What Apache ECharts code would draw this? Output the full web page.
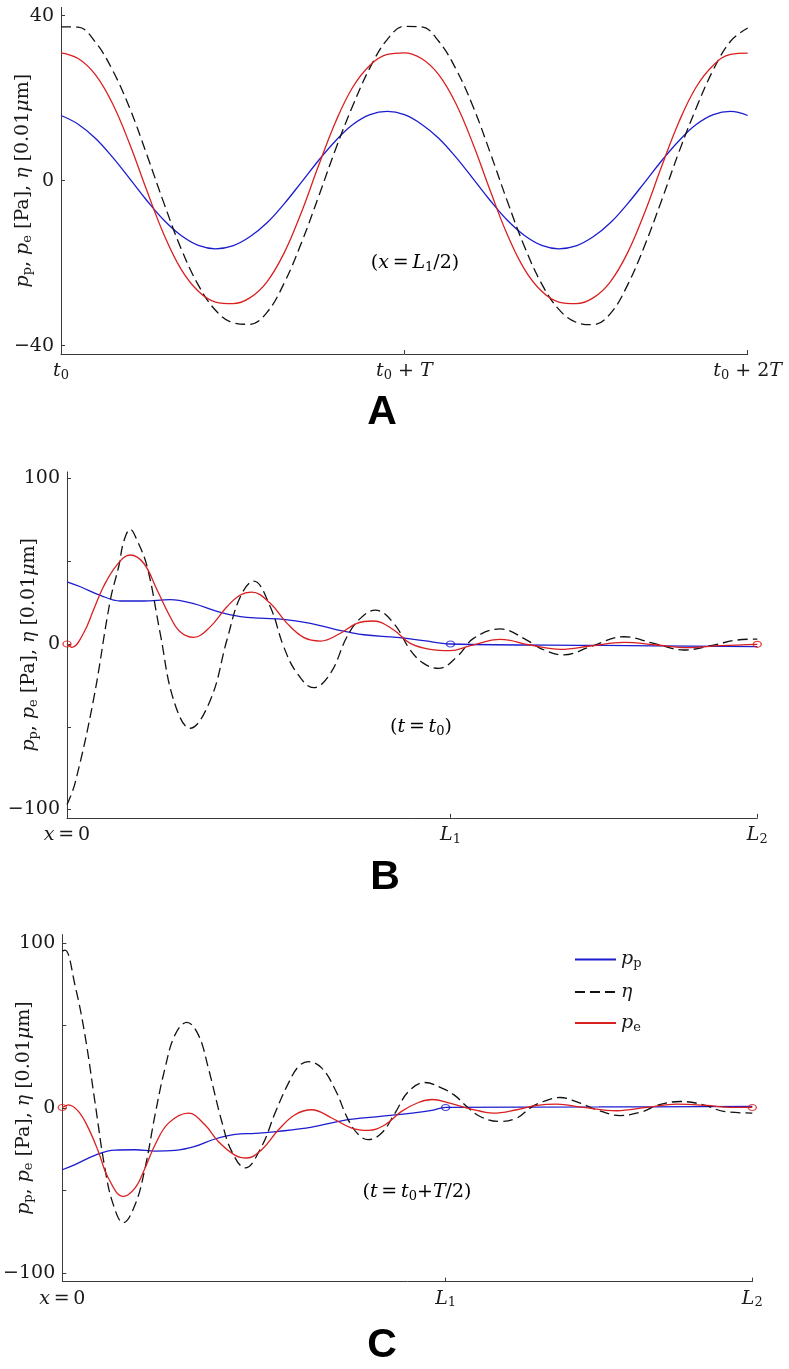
<!DOCTYPE html>
<html><head><meta charset="utf-8">
<script src="https://cdn.jsdelivr.net/npm/echarts@6/dist/echarts.min.js"></script>
<style>html,body{margin:0;padding:0;background:#fff}#c{width:789px;height:1369px}</style>
</head><body><div id="c"></div>
<script>
// ---------- data ----------
// Panel A : time series at x = L1/2, t in units of T
const A_pp = [[0,15.8],[0.05,13.7],[0.10,10.3],[0.15,5.7],[0.20,0.5],[0.25,-4.8],[0.30,-9.6],[0.35,-13.3],[0.40,-15.7],[0.45,-16.5],[0.50,-15.8],[0.55,-13.6],[0.60,-10.2],[0.65,-5.6],[0.70,-0.4],[0.75,4.9],[0.80,9.7],[0.85,13.6],[0.90,16.0],[0.95,16.8],[1.00,16.0],
  [1.05,13.7],[1.10,10.3],[1.15,5.7],[1.20,0.5],[1.25,-4.8],[1.30,-9.6],[1.35,-13.3],[1.40,-15.7],[1.45,-16.5],[1.50,-15.8],[1.55,-13.6],[1.60,-10.2],[1.65,-5.6],[1.70,-0.4],[1.75,4.9],[1.80,9.7],[1.85,13.6],[1.90,16.0],[1.95,16.8],[2.00,15.8]];
const A_eta = [[0,37.3],[0.05,37.2],[0.10,33.6],[0.15,26.8],[0.20,17.6],[0.25,6.3],[0.30,-5.5],[0.35,-16.5],[0.40,-25.3],[0.45,-31.4],[0.50,-34.4],[0.55,-34.8],[0.60,-31.9],[0.65,-24.8],[0.70,-15.1],[0.75,-3.9],[0.80,7.7],[0.85,18.2],[0.90,27.4],[0.95,34.2],[1.00,37.4],
  [1.05,37.3],[1.10,33.8],[1.15,27.1],[1.20,18.0],[1.25,6.8],[1.30,-5.0],[1.35,-16.0],[1.40,-25.0],[1.45,-31.2],[1.50,-34.3],[1.55,-34.9],[1.60,-32.2],[1.65,-25.3],[1.70,-15.7],[1.75,-4.6],[1.80,7.0],[1.85,17.6],[1.90,26.9],[1.95,33.8],[2.00,37.0]];
const A_pe = [[0,31.0],[0.05,29.6],[0.10,25.7],[0.15,18.7],[0.20,8.9],[0.25,-2.4],[0.30,-13.1],[0.35,-21.5],[0.40,-26.8],[0.45,-29.4],[0.50,-29.8],[0.55,-28.4],[0.60,-24.5],[0.65,-17.5],[0.70,-7.7],[0.75,3.6],[0.80,14.3],[0.85,22.7],[0.90,28.0],[0.95,30.6],[1.00,31.0],
  [1.05,29.6],[1.10,25.7],[1.15,18.7],[1.20,8.9],[1.25,-2.4],[1.30,-13.1],[1.35,-21.5],[1.40,-26.8],[1.45,-29.4],[1.50,-29.8],[1.55,-28.4],[1.60,-24.5],[1.65,-17.5],[1.70,-7.7],[1.75,3.6],[1.80,14.3],[1.85,22.7],[1.90,28.0],[1.95,30.6],[2.00,30.9]];

// Panel B : profile at t = t0, x in units of L1 (L2 = 1.8)
const B_pp = [[0,37.6],[0.035,34.6],[0.087,29.4],[0.139,26.0],[0.200,26.0],[0.269,26.8],[0.330,24.4],[0.391,19.8],[0.452,16.6],[0.504,15.6],[0.565,14.9],[0.635,12.5],[0.704,8.6],[0.774,5.6],[0.860,4.0],[0.930,2.0],[1.0,0],[1.4,-0.8],[1.8,-1.6]];
const B_eta = [[0,-97],[0.021,-84],[0.069,-33.8],[0.113,26.6],[0.135,47],[0.148,62],[0.165,69.3],[0.182,63],[0.209,46.7],[0.243,6.5],[0.278,-33.8],[0.321,-50.9],[0.374,-33.8],[0.417,2.4],[0.452,28.6],[0.487,38.0],[0.530,22.5],[0.565,-1.6],[0.600,-17.7],[0.643,-26.4],[0.687,-17.7],[0.730,4.4],[0.765,15.5],[0.804,20.5],[0.852,12.5],[0.895,-3.6],[0.930,-11.7],[0.969,-14.7],[1.020,-7.0],[1.060,3.4],[1.130,9.1],[1.199,2.4],[1.234,-2.6],[1.295,-6.6],[1.365,-1.6],[1.452,4.4],[1.530,0.4],[1.608,-3.6],[1.686,-0.6],[1.747,2.4],[1.8,3.0]];
const B_pe = [[0,0],[0.013,-2.0],[0.043,6.5],[0.069,20.5],[0.095,34.6],[0.130,47.7],[0.165,53.8],[0.200,48.8],[0.235,32.6],[0.269,16.5],[0.295,7.4],[0.330,4.0],[0.374,10.5],[0.417,22.5],[0.452,29.6],[0.482,31.3],[0.530,24.6],[0.574,12.5],[0.617,4.0],[0.661,1.8],[0.713,6.5],[0.756,12.5],[0.800,13.9],[0.852,8.5],[0.895,0.4],[0.947,-3.2],[0.999,-4.0],[1.052,-1.0],[1.130,2.8],[1.208,-0.6],[1.287,-3.2],[1.365,-1.2],[1.452,1.0],[1.539,-0.6],[1.617,-2.2],[1.704,-1.0],[1.8,-0.2]];
const B_markRed = [[0,0],[1.8,-0.2]];
const B_markBlue = [[1.0,0]];

// Panel C : profile at t = t0 + T/2
const C_pp = [[0,-37.3],[0.033,-34.2],[0.085,-28.6],[0.137,-25.4],[0.190,-25.2],[0.242,-26.0],[0.294,-25.6],[0.346,-23.2],[0.398,-18.7],[0.451,-15.9],[0.503,-15.3],[0.564,-14.1],[0.651,-11.5],[0.738,-7.3],[0.824,-5.1],[0.912,-3.0],[0.964,-1.4],[1.0,0.4],[1.4,0.7],[1.8,1.0]];
const C_eta = [[0,95],[0.007,95.6],[0.033,74.5],[0.059,44.3],[0.085,4.0],[0.111,-36.2],[0.133,-58.4],[0.159,-69.4],[0.190,-58.4],[0.216,-36.2],[0.242,-4.0],[0.268,24.2],[0.294,44.3],[0.325,51.9],[0.355,44.3],[0.381,24.2],[0.416,-8.1],[0.442,-26.2],[0.477,-36.2],[0.520,-23.2],[0.555,-3.0],[0.590,15.1],[0.616,25.1],[0.642,28.1],[0.677,24.2],[0.712,11.1],[0.746,-7.1],[0.773,-16.1],[0.798,-19.1],[0.833,-15.1],[0.868,-3.0],[0.903,10.0],[0.946,15.5],[0.990,12.1],[1.022,8.0],[1.055,1.0],[1.090,-5.1],[1.142,-8.1],[1.186,-6.0],[1.220,0],[1.255,4.0],[1.298,6.4],[1.351,3.0],[1.394,-1.0],[1.455,-4.5],[1.516,-2.0],[1.551,1.6],[1.612,4.0],[1.673,2.0],[1.725,-2.0],[1.8,-3.0]];
const C_pe = [[0,0.4],[0.016,2.0],[0.042,-2.0],[0.068,-12.1],[0.094,-26.2],[0.120,-42.3],[0.159,-53.4],[0.190,-48.3],[0.216,-36.2],[0.242,-22.2],[0.277,-9.1],[0.329,-3.0],[0.372,-10.1],[0.407,-20.2],[0.451,-28.6],[0.481,-30.2],[0.520,-25.2],[0.564,-13.1],[0.607,-4.0],[0.651,-1.0],[0.703,-6.0],[0.755,-12.1],[0.798,-13.5],[0.842,-10.1],[0.885,-2.0],[0.929,3.4],[0.965,5.2],[1.011,3.0],[1.064,-0.4],[1.124,-3.0],[1.186,-1.0],[1.238,1.6],[1.290,2.4],[1.359,0.4],[1.446,-1.6],[1.525,0.4],[1.603,2.4],[1.681,1.6],[1.742,0.4],[1.8,0.4]];
const C_markRed = [[0,0.4],[1.8,0.4]];
const C_markBlue = [[1.0,0.4]];

// ticks and labels
const A_xTicks = [0, 1, 2];
const A_xLabels = ['{i|t}{s|0}', '{i|t}{s|0}{n| + }{i|T}', '{i|t}{s|0}{n| + 2}{i|T}'];
const A_yTicks = [-40, 0, 40];
const A_yLabels = ['\u221240', '0', '40'];
const BC_xTicks = [0, 1, 1.8];
const BC_xLabels = ['{i|x}{n|\u2009=\u20090}', '{i|L}{s|1}', '{i|L}{s|2}'];
const BC_yTicks = [-100, -50, 0, 50, 100];
const BC_yLabelVals = [-100, 0, 100];
const BC_yLabels = ['\u2212100', '0', '100'];
const yName = '{i|p}{s|p}{n|, }{i|p}{s|e}{n| [Pa], }{i|\u03b7}{n| [0.01}{i|\u03bc}{n|m]}';
const seriesNames = ['pp', 'eta', 'pe'];
const legendLabels = {pp: '{i|p}{s|p}', eta: '{i|\u03b7}', pe: '{i|p}{s|e}'};
const notes = ['{n|(}{i|x}{n|\u2009=\u2009}{i|L}{s|1}{n|/2)}', '{n|(}{i|t}{n|\u2009=\u2009}{i|t}{s|0}{n|)}', '{n|(}{i|t}{n|\u2009=\u2009}{i|t}{s|0}{n|+}{i|T}{n|/2)}'];
const panelLetters = ['A', 'B', 'C'];

// ---------- style ----------
const FONT = '"DejaVu Serif", "Liberation Serif", serif';
const FS = 19;
const BLUE = '#1c1cd0', RED = '#da1f1f', BLACK = '#111111', AXIS = '#3a3a3a';
const rich = {
  i: {fontFamily: FONT, fontStyle: 'italic', fontSize: FS, lineHeight: 22, color: '#1a1a1a'},
  n: {fontFamily: FONT, fontSize: FS, lineHeight: 22, color: '#1a1a1a'},
  s: {fontFamily: FONT, fontSize: 13, lineHeight: 12, verticalAlign: 'bottom', color: '#1a1a1a'}
};

const grids = [
  {left: 61, top: 7.4, width: 686.7, height: 346.6, containLabel: false, outerBoundsMode: 'none'},
  {left: 67, top: 471.9, width: 690.3, height: 345.9, containLabel: false, outerBoundsMode: 'none'},
  {left: 62.3, top: 934.6, width: 690, height: 347, containLabel: false, outerBoundsMode: 'none'}
];
const yRanges = [[-42, 42], [-105, 104], [-105, 105]];

function xAxis(g) {
  const ticks = g === 0 ? A_xTicks : BC_xTicks;
  const labels = g === 0 ? A_xLabels : BC_xLabels;
  return {
    type: 'value', gridIndex: g, min: ticks[0], max: ticks[ticks.length - 1],
    axisLine: {show: true, onZero: false, lineStyle: {color: AXIS, width: 1}},
    axisTick: {show: true, inside: true, length: 4, customValues: ticks, lineStyle: {color: AXIS}},
    axisLabel: {show: true, margin: 6, customValues: ticks, rich: rich, hideOverlap: false,
      formatter: v => labels[ticks.indexOf(v)] || ''},
    splitLine: {show: false}
  };
}
function yAxis(g) {
  const ticks = g === 0 ? A_yTicks : BC_yTicks;
  const lv = g === 0 ? A_yTicks : BC_yLabelVals;
  const ll = g === 0 ? A_yLabels : BC_yLabels;
  return {
    type: 'value', gridIndex: g, min: yRanges[g][0], max: yRanges[g][1],
    name: yName, nameLocation: 'middle', nameRotate: 90, nameGap: 27, nameMoveOverlap: false,
    nameTextStyle: {rich: rich},
    axisLine: {show: true, onZero: false, lineStyle: {color: AXIS, width: 1}},
    axisTick: {show: true, inside: true, length: 4, customValues: ticks, lineStyle: {color: AXIS}},
    axisLabel: {show: true, margin: 7, customValues: lv, fontFamily: FONT, fontSize: FS, color: '#1a1a1a',
      formatter: v => ll[lv.indexOf(v)] || ''},
    splitLine: {show: false}
  };
}
function lineSeries(g, pp, eta, pe) {
  const common = {type: 'line', xAxisIndex: g, yAxisIndex: g, smooth: 0.4, symbol: 'none', z: 3};
  return [
    Object.assign({}, common, {name: seriesNames[0], data: pp, lineStyle: {color: BLUE, width: 1.3}, itemStyle: {color: BLUE}}),
    Object.assign({}, common, {name: seriesNames[1], data: eta, lineStyle: {color: BLACK, width: 1.3, type: [10, 5]}, itemStyle: {color: BLACK}}),
    Object.assign({}, common, {name: seriesNames[2], data: pe, lineStyle: {color: RED, width: 1.3}, itemStyle: {color: RED}})
  ];
}
function markSeries(g, data, color) {
  return {type: 'scatter', name: 'marker', xAxisIndex: g, yAxisIndex: g, data: data, z: 4,
    symbol: 'circle', symbolSize: [8, 6],
    itemStyle: {color: 'rgba(0,0,0,0)', borderColor: color, borderWidth: 1.3}};
}

const series = [].concat(
  lineSeries(0, A_pp, A_eta, A_pe),
  lineSeries(1, B_pp, B_eta, B_pe),
  [markSeries(1, B_markRed, RED), markSeries(1, B_markBlue, BLUE)],
  lineSeries(2, C_pp, C_eta, C_pe),
  [markSeries(2, C_markRed, RED), markSeries(2, C_markBlue, BLUE)]
);

const notePos = [[415, 263], [421, 727], [417, 1192]];
const letterPos = [[382, 413], [385, 878], [382, 1346]];
const graphics = [];
notes.forEach((t, k) => graphics.push({type: 'text', x: notePos[k][0], y: notePos[k][1],
  style: {text: t, rich: rich, align: 'center', verticalAlign: 'middle'}}));
panelLetters.forEach((t, k) => graphics.push({type: 'text', x: letterPos[k][0], y: letterPos[k][1],
  style: {text: t, align: 'center', verticalAlign: 'middle', fill: '#000',
    font: 'bold 41px "Liberation Sans", Arial, sans-serif'}}));

const chart = echarts.init(document.getElementById('c'), null, {renderer: 'canvas'});
chart.setOption({
  backgroundColor: '#fff',
  animation: false,
  grid: grids,
  xAxis: [0, 1, 2].map(xAxis),
  yAxis: [0, 1, 2].map(yAxis),
  legend: {data: seriesNames, orient: 'vertical', left: 574, top: 950, padding: 0,
    itemWidth: 41, itemHeight: 14, itemGap: 12, itemStyle: {opacity: 0},
    formatter: n => legendLabels[n], textStyle: {rich: rich}},
  graphic: graphics,
  series: series
});
</script>
</body></html>
